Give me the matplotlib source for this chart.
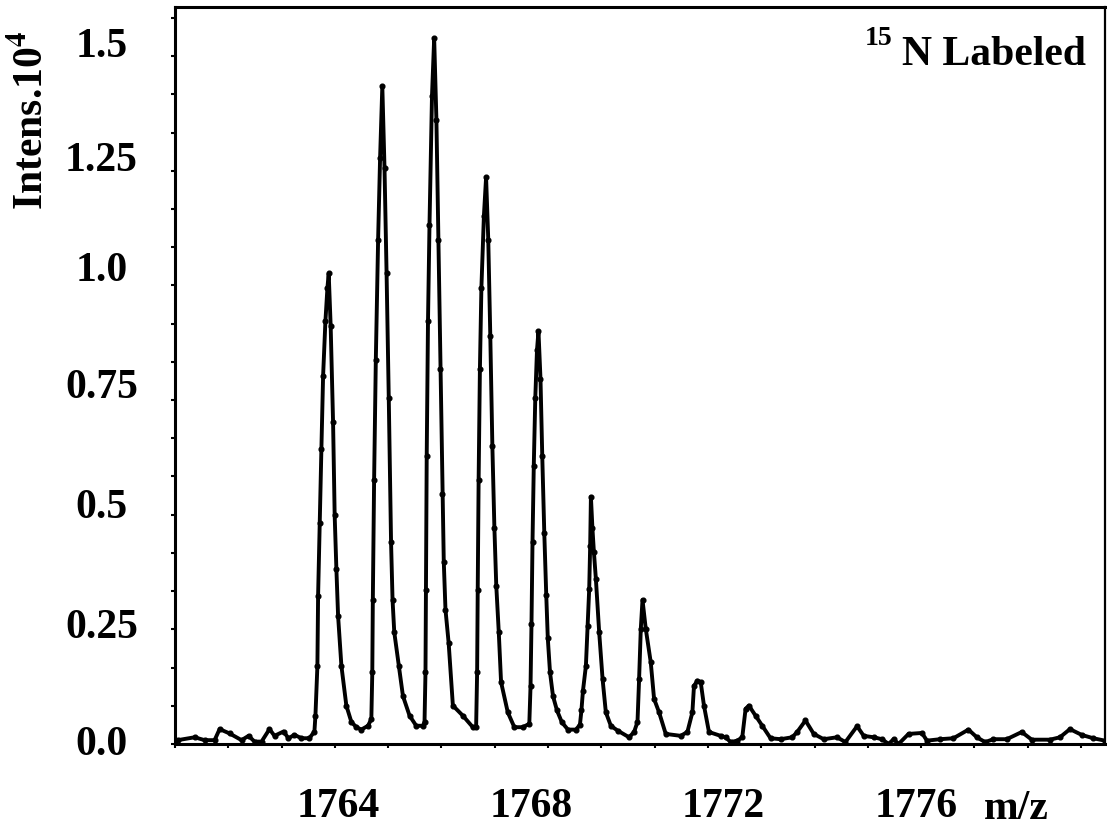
import numpy as np
import matplotlib
matplotlib.use("Agg")
import matplotlib.pyplot as plt

plt.rcParams['font.family'] = ['Liberation Serif', 'DejaVu Serif']
plt.rcParams['font.weight'] = 'bold'
plt.rcParams['mathtext.fontset'] = 'stix'
plt.rcParams['mathtext.default'] = 'bf'

##### profile of the 15N labelled isotope cluster (m/z, intensity x 10^4)
mz = [1761.050, 1761.369, 1761.556, 1761.743, 1761.837, 1762.024, 1762.249, 1762.380,
      1762.492, 1762.624, 1762.773, 1762.867, 1763.036, 1763.129, 1763.242, 1763.373,
      1763.522, 1763.616,
      # 1764
      1763.635, 1763.672, 1763.685, 1763.715, 1763.747, 1763.779, 1763.822, 1763.860,
      1763.884, 1763.921, 1763.966, 1763.996, 1764.028, 1764.060, 1764.122, 1764.215,
      1764.309, 1764.403, 1764.496, 1764.622, 1764.684,
      # 1765
      1764.702, 1764.712, 1764.736, 1764.768, 1764.811, 1764.848, 1764.890, 1764.931,
      1764.970, 1765.011, 1765.054, 1765.082, 1765.114, 1765.199, 1765.277, 1765.401,
      1765.526, 1765.652, 1765.682,
      # 1766
      1765.700, 1765.708, 1765.723, 1765.747, 1765.775, 1765.822, 1765.863, 1765.905,
      1765.942, 1765.981, 1766.019, 1766.043, 1766.075, 1766.135, 1766.214, 1766.401,
      1766.588, 1766.650,
      # 1767
      1766.669, 1766.680, 1766.697, 1766.721, 1766.749, 1766.796, 1766.837, 1766.878,
      1766.916, 1766.955, 1766.993, 1767.028, 1767.075, 1767.118, 1767.244, 1767.367,
      1767.524, 1767.648,
      # 1768
      1767.671, 1767.689, 1767.708, 1767.732, 1767.760, 1767.792, 1767.820, 1767.858,
      1767.891, 1767.929, 1767.966, 1767.995, 1768.036, 1768.092, 1768.167, 1768.260,
      1768.373, 1768.523, 1768.598,
      # 1769
      1768.626, 1768.654, 1768.710, 1768.742, 1768.772, 1768.790, 1768.804, 1768.832,
      1768.860, 1768.897, 1768.959, 1769.023, 1769.084, 1769.178, 1769.304, 1769.521,
      1769.614, 1769.678,
      # 1770
      1769.708, 1769.740, 1769.772, 1769.833, 1769.927, 1769.989, 1770.083, 1770.208,
      1770.489, 1770.614, 1770.708,
      # 1771
      1770.738, 1770.802, 1770.864, 1770.925, 1771.019, 1771.238, 1771.332, 1771.425,
      1771.551, 1771.644,
      # 1772 and the small ones after
      1771.706, 1771.768, 1771.893, 1772.019, 1772.174, 1772.362, 1772.581, 1772.674,
      1772.830, 1772.985, 1773.172, 1773.423, 1773.579, 1773.798, 1773.922, 1774.109,
      1774.266, 1774.390, 1774.483, 1774.577, 1774.764, 1775.015, 1775.109, 1775.358,
      1775.607, 1775.888, 1776.045, 1776.201, 1776.356, 1776.607, 1776.888, 1777.075,
      1777.418, 1777.605, 1777.792, 1778.012, 1778.229, 1778.448]

intens = [0.008, 0.014, 0.008, 0.008, 0.031, 0.022, 0.008, 0.017,
          0.005, 0.005, 0.031, 0.017, 0.026, 0.012, 0.019, 0.012,
          0.012, 0.026,
          0.059, 0.163, 0.309, 0.460, 0.615, 0.767, 0.880, 0.950,
          0.980, 0.870, 0.670, 0.476, 0.365, 0.267, 0.163, 0.080,
          0.046, 0.035, 0.030, 0.038, 0.052,
          0.150, 0.300, 0.550, 0.800, 1.050, 1.220, 1.370, 1.200,
          0.980, 0.720, 0.420, 0.300, 0.233, 0.163, 0.100, 0.059,
          0.038, 0.038, 0.046,
          0.150, 0.320, 0.600, 0.880, 1.080, 1.350, 1.470, 1.300,
          1.050, 0.780, 0.520, 0.380, 0.280, 0.210, 0.080, 0.059,
          0.035, 0.035,
          0.150, 0.320, 0.550, 0.780, 0.950, 1.100, 1.180, 1.050,
          0.850, 0.620, 0.450, 0.330, 0.233, 0.129, 0.066, 0.035,
          0.035, 0.042,
          0.120, 0.250, 0.420, 0.580, 0.720, 0.820, 0.860, 0.760,
          0.600, 0.440, 0.310, 0.220, 0.150, 0.100, 0.070, 0.045,
          0.030, 0.030, 0.040,
          0.070, 0.110, 0.163, 0.246, 0.323, 0.413, 0.515, 0.450,
          0.400, 0.344, 0.233, 0.135, 0.066, 0.038, 0.028, 0.014,
          0.025, 0.046,
          0.135, 0.240, 0.300, 0.240, 0.170, 0.094, 0.066, 0.021,
          0.017, 0.025, 0.066,
          0.121, 0.132, 0.129, 0.080, 0.025, 0.017, 0.014, 0.004,
          0.007, 0.014,
          0.073, 0.080, 0.059, 0.038, 0.012, 0.010, 0.014, 0.025,
          0.049, 0.021, 0.010, 0.014, 0.004, 0.037, 0.017, 0.014,
          0.010, 0.000, 0.010, 0.000, 0.021, 0.023, 0.007, 0.010,
          0.012, 0.030, 0.014, 0.004, 0.010, 0.010, 0.025, 0.009,
          0.009, 0.014, 0.031, 0.019, 0.012, 0.007]

######## axis labelling as printed on the figure
x_label_pos = [1764.06, 1767.68, 1771.28, 1774.91]
x_labels = ['1764', '1768', '1772', '1776']
y_label_pos = [0.010, 0.254, 0.502, 0.752, 0.996, 1.225, 1.4625]
y_labels = ['0.0', '0.25', '0.5', '0.75', '1.0', '1.25', '1.5']

fig = plt.figure(figsize=(11.07, 8.29), dpi=100)
ax = fig.add_axes([175/1107, 1 - 745/829, 930/1107, 737/829])

ax.plot(mz, intens, color='black', lw=2.8, marker='o', ms=3.4,
        solid_joinstyle='round')

ax.set_xlim(1761.03, 1778.45)
ax.set_ylim(0, 1.535)

ax.set_xticks(x_label_pos, labels=x_labels)
ax.set_xticks(np.arange(1761, 1779), minor=True)
ax.set_yticks(y_label_pos, labels=y_labels)
ax.set_yticks(np.arange(20) * 0.0796, minor=True)
for t in ax.get_yticklabels():
    t.set_ha('center')

ax.tick_params(which='major', length=0, labelsize=30, colors='black')
ax.tick_params(axis='x', which='major', pad=31)
ax.tick_params(axis='y', which='major', pad=53)
ax.tick_params(which='minor', length=3, width=1.5, direction='out')

for s in ax.spines.values():
    s.set_linewidth(2.2)
ax.spines['right'].set_linewidth(1.6)

ax.text(1776.78, -45/737, 'm/z', transform=ax.get_xaxis_transform(),
        ha='center', va='top', fontsize=30)

fig.text(0.029, 0.855, r'Intens.10$^{4}$', rotation=90, ha='center', va='center', fontsize=30)
fig.text(0.7814, 0.9457, '15', fontsize=20, ha='left', va='baseline')
fig.text(0.8148, 0.9216, 'N Labeled', fontsize=30, ha='left', va='baseline')

plt.savefig('out.png', dpi=100)
